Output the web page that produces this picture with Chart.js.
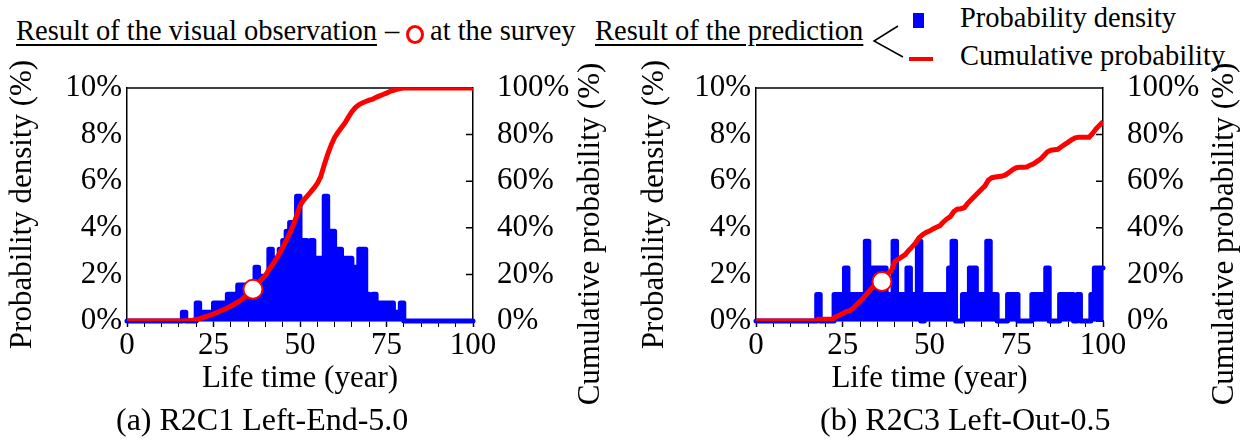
<!DOCTYPE html>
<html>
<head>
<meta charset="utf-8">
<script src="https://cdn.jsdelivr.net/npm/chart.js@4.4.1/dist/chart.umd.min.js"></script>
<style>
    html, body { margin: 0; padding: 0; background: #fff; }
    body { width: 1249px; height: 445px; position: relative; overflow: hidden;
           font-family: "Liberation Serif", "Times New Roman", serif; color: #000; }
    .txt { position: absolute; white-space: nowrap; font-size: 28.5px; line-height: 28px; }
    .ul { text-decoration: underline; text-decoration-thickness: 2px; text-underline-offset: 4px; }
    .caption { position: absolute; white-space: nowrap; font-size: 32px; line-height: 32px; }
    #wrapA { position: absolute; left: 0; top: 0; }
    #wrapB { position: absolute; left: 624px; top: 0; }
    #surveyMark { position: absolute; left: 406px; top: 25px; width: 18px; height: 19px;
                  box-sizing: border-box; border: 3px solid #ff0000; border-radius: 50%; background: #fff; }
    #densMark { position: absolute; left: 913px; top: 13px; width: 11px; height: 15px; background: #0000ff; }
    #cumMark { position: absolute; left: 909px; top: 57px; width: 24px; height: 4px; background: #ff0000; }
    #bracket { position: absolute; left: 0; top: 0; }
</style>
</head>
<body>

<div class="txt ul" style="left:16px; top:17px;">Result of the visual observation</div>
<div class="txt" style="left:385px; top:17px;">–</div>
<div id="surveyMark"></div>
<div class="txt" style="left:430px; top:17px;">at the survey</div>
<div class="txt ul" style="left:595px; top:17px;">Result of the prediction</div>
<svg id="bracket" width="1249" height="80">
    <polyline points="898,26 874,41 903,57" fill="none" stroke="#000" stroke-width="1.5"/>
</svg>
<div id="densMark"></div>
<div class="txt" style="left:960px; top:4px;">Probability density</div>
<div id="cumMark"></div>
<div class="txt" style="left:960px; top:42px;">Cumulative probability</div>

<div id="wrapA"><canvas id="chartA" width="624" height="445"></canvas></div>
<div id="wrapB"><canvas id="chartB" width="625" height="445"></canvas></div>

<div class="caption" style="left:116px; top:403px;">(a) R2C1 Left-End-5.0</div>
<div class="caption" style="left:820px; top:403px;">(b) R2C3 Left-Out-0.5</div>

<script>
// life time (year) of every histogram bin
const lifeYears = [
    0, 1, 2, 3, 4, 5, 6, 7, 8, 9,
    10, 11, 12, 13, 14, 15, 16, 17, 18, 19,
    20, 21, 22, 23, 24, 25, 26, 27, 28, 29,
    30, 31, 32, 33, 34, 35, 36, 37, 38, 39,
    40, 41, 42, 43, 44, 45, 46, 47, 48, 49,
    50, 51, 52, 53, 54, 55, 56, 57, 58, 59,
    60, 61, 62, 63, 64, 65, 66, 67, 68, 69,
    70, 71, 72, 73, 74, 75, 76, 77, 78, 79,
    80, 81, 82, 83, 84, 85, 86, 87, 88, 89,
    90, 91, 92, 93, 94, 95, 96, 97, 98, 99,
    100
];

// (a) R2C1 Left-End-5.0 : probability density (%)
const densityA = [
    0, 0, 0, 0, 0, 0, 0, 0, 0, 0,
    0, 0, 0, 0, 0, 0, 0.38, 0, 0, 0,
    0.77, 0.38, 0.38, 0.38, 0.38, 0.77, 0.77, 0.77, 0.77, 1.15,
    1.15, 1.15, 1.54, 1.54, 1.54, 1.54, 1.54, 2.31, 1.92, 1.92,
    1.92, 3.08, 2.69, 2.69, 3.08, 3.46, 3.85, 4.23, 4.23, 5.35,
    3.46, 3.46, 2.69, 3.46, 2.69, 2.69, 2.69, 5.35, 3.85, 3.85,
    3.08, 3.08, 2.69, 2.69, 2.69, 2.31, 2.31, 3.08, 3.08, 1.15,
    0.38, 1.15, 0.77, 0.77, 0.77, 0.77, 0.77, 0.38, 0.38, 0.77,
    0, 0, 0, 0, 0, 0, 0, 0, 0, 0,
    0, 0, 0, 0, 0, 0, 0, 0, 0, 0,
    0
];

// (a) cumulative probability (%)
const cumYearsA = [0, 17, 19, 21, 23, 25, 27, 29, 31, 33, 35, 36, 37, 38, 39, 40, 41, 42, 43, 44, 45, 46, 47, 48, 49,
    50, 51, 52, 53, 54, 55, 56, 57, 58, 59, 60, 61, 62, 63, 64, 65, 66, 67, 68, 69, 70, 71, 72, 73, 74, 75,
    76, 77, 78, 79, 80, 100];
const cumA = [0, 0, 0.3, 1, 2, 3, 4.3, 5.6, 7.2, 9, 11.5, 13, 14.8, 16.5, 18, 19.5, 22, 24, 26.3, 28.8, 31.5, 34.5, 37.5, 41, 45,
    49.5, 51.8, 53.5, 55.2, 57, 59, 62, 67, 71.5, 75.5, 78.8, 81, 83, 85, 87.5, 89.8, 91.6, 92.8, 93.6, 94.2, 94.8, 95.2, 96, 96.6, 97.2, 97.8,
    98.5, 99, 99.4, 99.8, 100, 100];

// (b) R2C3 Left-Out-0.5 : probability density (%)
const densityB = [
    0, 0, 0, 0, 0, 0, 0, 0, 0, 0,
    0, 0, 0, 0, 0, 0, 0, 0, 1.14, 0,
    0, 0, 0, 1.14, 1.14, 1.14, 2.28, 1.14, 1.14, 1.14,
    1.14, 1.14, 3.42, 2.28, 2.28, 2.28, 2.28, 2.28, 1.14, 1.14,
    3.42, 1.14, 1.14, 1.14, 2.28, 1.14, 1.14, 3.42, 0, 1.14,
    1.14, 1.14, 1.14, 1.14, 1.14, 1.14, 2.28, 3.42, 0, 0,
    1.14, 1.14, 2.28, 2.28, 1.14, 1.14, 1.14, 3.42, 1.14, 1.14,
    0, 0, 0, 1.14, 1.14, 1.14, 0, 0, 0, 0,
    1.14, 1.14, 1.14, 1.14, 2.28, 0, 0, 0, 1.14, 1.14,
    1.14, 1.14, 0, 1.14, 0, 0, 0, 1.14, 2.28, 2.28,
    2.28
];

// (b) cumulative probability (%)
const cumYearsB = [0, 17, 18, 22, 23, 24, 25, 26, 27, 28, 29, 30, 31, 32, 33, 34, 35, 36, 37, 38, 39,
    40, 41, 42, 43, 44, 45, 46, 47, 48, 49, 50, 51, 52, 53, 54, 55, 56, 57, 58, 59,
    60, 61, 62, 63, 64, 65, 66, 67, 68, 69, 70, 71, 72, 73, 74, 75, 76, 77, 78, 79,
    80, 81, 82, 83, 84, 85, 86, 87, 88, 89, 90, 91, 92, 93, 94, 95, 96, 97, 98, 99, 100];
const cumB = [0, 0, 0.8, 0.8, 1.8, 2.5, 3.2, 4, 4.4, 5.5, 7, 8.4, 10, 11.8, 13.5, 15, 16, 17, 18.5, 20.5, 21.5,
    25.5, 26.5, 27.5, 28.5, 30.3, 31.8, 33.5, 35.8, 37, 38, 38.6, 39.5, 40.2, 40.9, 42.5, 43.8, 44.8, 47, 48, 48.2,
    48.6, 50.5, 52, 53.5, 55, 56.5, 58, 60.5, 61.5, 61.8, 62, 62.2, 62.8, 63.8, 65, 65.8, 66, 66, 66.1, 66.8,
    67.5, 68.5, 69.5, 71, 72.6, 73.3, 73.5, 73.7, 74.8, 75.8, 76.8, 77.8, 78.6, 78.9, 78.9, 78.9, 78.9, 80.5, 82.5, 84, 85.5];

// visual observation at the survey: [year, cumulative %]
const surveyA = [36.4, 13.6];
const surveyB = [36.3, 17];

const yTicksLeft = [0, 2, 4, 6, 8, 10];
const yTicksRight = [0, 20, 40, 60, 80, 100];
const xLabelYears = [0, 25, 50, 75, 100];

Chart.defaults.font.family = '"Liberation Serif", "Times New Roman", serif';
Chart.defaults.color = '#000';

const AXIS_FONT = { size: 31 };

// top border, inward ticks of the right axis and the rotated right title
const framePlugin = {
    id: 'frame',
    beforeDatasetsDraw(chart) {
        const { ctx, chartArea } = chart;
        const y2 = chart.scales.y2;
        ctx.save();
        ctx.strokeStyle = '#000';
        ctx.lineWidth = 1.5;
        ctx.beginPath();
        ctx.moveTo(chartArea.left, chartArea.top);
        ctx.lineTo(chartArea.right, chartArea.top);
        y2.ticks.forEach(t => {
            const py = y2.getPixelForValue(t.value);
            ctx.moveTo(chartArea.right - 7, py);
            ctx.lineTo(chartArea.right, py);
        });
        ctx.stroke();
        ctx.restore();
    },
    afterDraw(chart, args, opts) {
        const { ctx, chartArea } = chart;
        ctx.save();
        ctx.font = '31px "Liberation Serif"';
        ctx.fillStyle = '#000';
        ctx.textAlign = 'center';
        ctx.textBaseline = 'middle';
        ctx.translate(chartArea.right + opts.offset, chartArea.top + opts.middle);
        ctx.rotate(-Math.PI / 2);
        ctx.fillText(opts.text, 0, 0);
        ctx.restore();
    }
};

function makePanel(canvasId, p) {
    const densityPoints = lifeYears.map((x, i) => ({ x: x, y: p.density[i] }));
    const cumPoints = p.cumYears.map((x, i) => ({ x: x, y: p.cum[i] }));

    return new Chart(document.getElementById(canvasId), {
        type: 'line',
        data: {
            datasets: [
                {
                    label: 'at the survey',
                    data: [{ x: p.survey[0], y: p.survey[1] }],
                    yAxisID: 'y2',
                    showLine: false,
                    pointRadius: 9.5,
                    pointBackgroundColor: '#fff',
                    pointBorderColor: '#ff0000',
                    pointBorderWidth: 2,
                    order: 0
                },
                {
                    label: 'Cumulative probability',
                    data: cumPoints,
                    yAxisID: 'y2',
                    borderColor: '#ff0000',
                    borderWidth: 5,
                    pointRadius: 0,
                    fill: false,
                    order: 1
                },
                {
                    label: 'Probability density',
                    data: densityPoints,
                    yAxisID: 'y',
                    stepped: p.stepped,
                    borderColor: '#0000ff',
                    backgroundColor: '#0000ff',
                    borderWidth: 5,
                    borderJoinStyle: 'round',
                    borderCapStyle: 'round',
                    pointRadius: 0,
                    fill: 'origin',
                    clip: 6,
                    order: 2
                }
            ]
        },
        options: {
            responsive: false,
            animation: false,
            devicePixelRatio: 1,
            layout: { padding: { top: 88, bottom: 48, left: 0, right: 0 } },
            plugins: {
                legend: { display: false },
                tooltip: { enabled: false },
                frame: { text: 'Cumulative probability (%)', offset: p.rightTitleOffset, middle: 146 }
            },
            scales: {
                x: {
                    type: 'linear',
                    min: 0,
                    max: 100,
                    afterFit: s => { s.height = 76; },
                    ticks: {
                        stepSize: 5,
                        autoSkip: false,
                        maxRotation: 0,
                        padding: 0,
                        font: AXIS_FONT,
                        callback: v => xLabelYears.includes(v) ? v : ''
                    },
                    grid: {
                        drawOnChartArea: false,
                        drawTicks: true,
                        tickLength: 6,
                        tickColor: '#000',
                        tickWidth: c => (c.tick && xLabelYears.includes(c.tick.value)) ? 1.5 : 1
                    },
                    border: { display: true, color: '#000', width: 1.5 },
                    title: { display: true, text: 'Life time (year)', font: AXIS_FONT, padding: 0 }
                },
                y: {
                    position: 'left',
                    min: 0,
                    max: 10,
                    afterFit: s => { s.width = p.leftWidth; },
                    afterBuildTicks: s => { s.ticks = yTicksLeft.map(v => ({ value: v })); },
                    ticks: { padding: 5, font: AXIS_FONT, callback: v => v + '%' },
                    grid: { drawOnChartArea: false, drawTicks: false },
                    border: { display: true, color: '#000', width: 1.5 },
                    title: {
                        display: true,
                        text: 'Probability density (%)',
                        font: AXIS_FONT,
                        padding: { top: p.leftTitlePad, bottom: 0 }
                    }
                },
                y2: {
                    position: 'right',
                    min: 0,
                    max: 100,
                    afterFit: s => { s.width = p.rightWidth; },
                    afterBuildTicks: s => { s.ticks = yTicksRight.map(v => ({ value: v })); },
                    ticks: { padding: 24, font: AXIS_FONT, callback: v => v + '%' },
                    grid: { drawOnChartArea: false, drawTicks: false },
                    border: { display: true, color: '#000', width: 1.5 }
                }
            }
        },
        plugins: [framePlugin]
    });
}

makePanel('chartA', {
    density: densityA, cumYears: cumYearsA, cum: cumA, survey: surveyA,
    stepped: 'before', leftWidth: 127, rightWidth: 151, leftTitlePad: 4, rightTitleOffset: 118
});
makePanel('chartB', {
    density: densityB, cumYears: cumYearsB, cum: cumB, survey: surveyB,
    stepped: 'middle', leftWidth: 132, rightWidth: 146, leftTitlePad: 12, rightTitleOffset: 122
});
</script>
</body>
</html>
